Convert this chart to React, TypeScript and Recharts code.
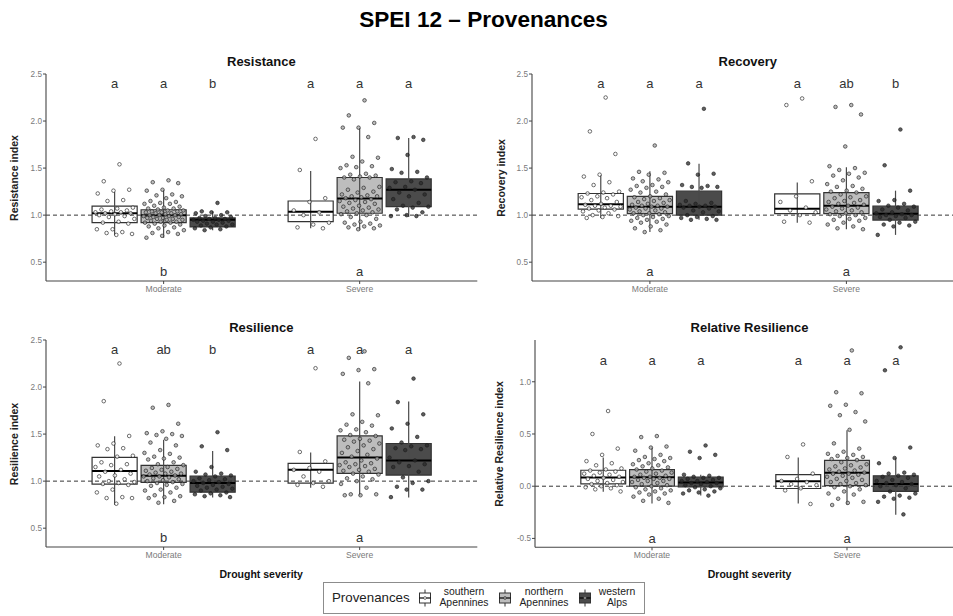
import React from "react";
import { ComposedChart, XAxis, YAxis, ReferenceArea, ReferenceLine, Scatter } from "recharts";

const FONT = "'Liberation Sans', Arial, sans-serif";

const severities = ["Moderate", "Severe"];
const provenances = [["southern", "Apennines"], ["northern", "Apennines"], ["western", "Alps"]];
const boxFill = ["#ffffff", "#bdbdbd", "#4b4b4b"];
const dotFill = ["#ffffff", "#a6a6a6", "#2a2a2a"];

// box stats: [lower whisker, q1, median, q3, upper whisker]
// order: Moderate south/north/west, Severe south/north/west
const resStats = [
  [0.785, 0.92, 1.02, 1.095, 1.245], [0.76, 0.92, 1.0, 1.057, 1.27], [0.84, 0.875, 0.95, 0.97, 1.04],
  [0.86, 0.93, 1.035, 1.15, 1.47], [0.84, 1.02, 1.177, 1.4, 1.925], [0.98, 1.09, 1.27, 1.385, 1.82],
];
const recStats = [
  [0.97, 1.064, 1.117, 1.23, 1.43], [0.82, 1.015, 1.09, 1.2, 1.466], [0.95, 1.0, 1.09, 1.255, 1.545],
  [0.92, 1.015, 1.067, 1.226, 1.346], [0.85, 1.015, 1.1, 1.24, 1.51], [0.79, 0.947, 1.014, 1.095, 1.26],
];
const rslStats = [
  [0.75, 0.968, 1.107, 1.252, 1.476], [0.755, 0.986, 1.057, 1.167, 1.44], [0.826, 0.883, 0.979, 1.053, 1.32],
  [0.93, 0.979, 1.12, 1.188, 1.305], [0.844, 1.082, 1.252, 1.48, 2.06], [0.826, 1.064, 1.22, 1.4, 1.846],
];
const relStats = [
  [-0.054, 0.022, 0.083, 0.153, 0.274], [-0.166, 0.0, 0.086, 0.159, 0.37], [-0.09, -0.006, 0.035, 0.086, 0.11],
  [-0.166, -0.022, 0.048, 0.11, 0.274], [-0.178, 0.006, 0.13, 0.248, 0.535], [-0.274, -0.05, 0.022, 0.1, 0.268],
];

const resModSouth = [1.54, 1.36, 1.27, 1.26, 1.23, 1.16, 1.15, 1.08, 1.07, 1.06, 1.05, 1.04, 1.03, 1.03, 1.02, 1.02, 1.01, 1.0, 0.99, 0.98, 0.96, 0.93, 0.92, 0.91, 0.85, 0.85, 0.82, 0.81, 0.8, 0.79];
const resModNorth = [1.37, 1.35, 1.34, 1.27, 1.26, 1.22, 1.21, 1.2, 1.18, 1.15, 1.14, 1.13, 1.12, 1.12, 1.1, 1.09, 1.08, 1.07, 1.07, 1.06, 1.05, 1.05, 1.04, 1.04, 1.03, 1.03, 1.02, 1.02, 1.01, 1.01, 1.0, 1.0, 1.0, 0.99, 0.99, 0.98, 0.98, 0.97, 0.97, 0.96, 0.96, 0.95, 0.95, 0.94, 0.93, 0.93, 0.92, 0.92, 0.91, 0.9, 0.89, 0.88, 0.87, 0.86, 0.84, 0.82, 0.81, 0.8, 0.78, 0.76];
const resModWest = [1.13, 1.04, 1.03, 1.03, 1.02, 1.0, 0.99, 0.98, 0.97, 0.97, 0.96, 0.96, 0.95, 0.95, 0.94, 0.94, 0.93, 0.93, 0.92, 0.91, 0.9, 0.9, 0.89, 0.88, 0.87, 0.86, 0.85, 0.84];
const resSevSouth = [1.81, 1.48, 1.18, 1.14, 1.05, 1.03, 1.0, 0.92, 0.9, 0.87, 0.86];
const resSevNorth = [2.22, 2.06, 1.98, 1.93, 1.93, 1.83, 1.62, 1.61, 1.57, 1.53, 1.52, 1.51, 1.5, 1.44, 1.43, 1.42, 1.41, 1.4, 1.4, 1.38, 1.3, 1.29, 1.27, 1.25, 1.24, 1.22, 1.21, 1.2, 1.2, 1.19, 1.18, 1.17, 1.16, 1.15, 1.14, 1.13, 1.12, 1.1, 1.09, 1.08, 1.07, 1.06, 1.05, 1.04, 1.03, 1.02, 1.01, 1.0, 0.98, 0.96, 0.93, 0.92, 0.91, 0.9, 0.89, 0.88, 0.87, 0.86, 0.85];
const resSevWest = [1.83, 1.82, 1.8, 1.64, 1.49, 1.46, 1.45, 1.4, 1.36, 1.35, 1.34, 1.3, 1.29, 1.27, 1.24, 1.22, 1.2, 1.17, 1.13, 1.1, 1.09, 1.08, 1.06, 1.03, 1.0, 0.99, 0.99];

const recModSouth = [2.25, 1.89, 1.65, 1.43, 1.41, 1.35, 1.32, 1.25, 1.24, 1.23, 1.22, 1.2, 1.19, 1.18, 1.16, 1.14, 1.12, 1.11, 1.1, 1.1, 1.09, 1.08, 1.07, 1.06, 1.05, 1.04, 1.02, 1.0, 0.99, 0.98, 0.97];
const recModNorth = [1.74, 1.46, 1.45, 1.43, 1.39, 1.38, 1.36, 1.35, 1.32, 1.31, 1.3, 1.29, 1.27, 1.25, 1.24, 1.22, 1.2, 1.19, 1.18, 1.17, 1.16, 1.15, 1.14, 1.13, 1.12, 1.11, 1.1, 1.1, 1.09, 1.09, 1.08, 1.07, 1.07, 1.06, 1.05, 1.04, 1.03, 1.02, 1.02, 1.01, 1.0, 0.99, 0.98, 0.97, 0.96, 0.95, 0.94, 0.93, 0.92, 0.9, 0.88, 0.86, 0.84, 0.82];
const recModWest = [2.13, 1.55, 1.44, 1.43, 1.32, 1.31, 1.3, 1.3, 1.29, 1.15, 1.13, 1.12, 1.11, 1.1, 1.1, 1.09, 1.09, 1.08, 1.07, 1.05, 1.04, 1.03, 1.0, 0.99, 0.98, 0.97, 0.96, 0.95, 0.95];
const recSevSouth = [2.24, 2.17, 1.36, 1.2, 1.14, 1.08, 1.05, 1.03, 1.0, 0.93, 0.92];
const recSevNorth = [2.17, 2.15, 2.07, 1.73, 1.52, 1.5, 1.48, 1.45, 1.44, 1.42, 1.4, 1.37, 1.33, 1.31, 1.3, 1.28, 1.26, 1.25, 1.24, 1.22, 1.2, 1.19, 1.18, 1.16, 1.15, 1.14, 1.13, 1.12, 1.11, 1.1, 1.09, 1.08, 1.07, 1.06, 1.05, 1.04, 1.03, 1.02, 1.01, 1.0, 0.99, 0.97, 0.96, 0.95, 0.94, 0.92, 0.9, 0.88, 0.86, 0.85];
const recSevWest = [1.91, 1.53, 1.26, 1.16, 1.15, 1.12, 1.1, 1.09, 1.08, 1.06, 1.05, 1.03, 1.02, 1.01, 1.0, 1.0, 0.99, 0.98, 0.97, 0.95, 0.93, 0.92, 0.9, 0.89, 0.88, 0.79];

const rslModSouth = [2.25, 1.85, 1.48, 1.4, 1.38, 1.35, 1.34, 1.27, 1.26, 1.2, 1.18, 1.17, 1.15, 1.12, 1.1, 1.08, 1.06, 1.05, 1.02, 1.0, 0.99, 0.98, 0.97, 0.96, 0.91, 0.88, 0.83, 0.82, 0.82, 0.76];
const rslModNorth = [1.81, 1.78, 1.61, 1.53, 1.51, 1.5, 1.49, 1.48, 1.45, 1.41, 1.38, 1.33, 1.3, 1.29, 1.26, 1.25, 1.24, 1.23, 1.2, 1.18, 1.17, 1.15, 1.14, 1.13, 1.12, 1.11, 1.1, 1.09, 1.08, 1.08, 1.07, 1.06, 1.05, 1.05, 1.04, 1.03, 1.02, 1.01, 1.0, 0.99, 0.98, 0.97, 0.96, 0.95, 0.93, 0.91, 0.9, 0.88, 0.85, 0.84, 0.83, 0.82, 0.79, 0.77];
const rslModWest = [1.52, 1.37, 1.33, 1.15, 1.1, 1.08, 1.07, 1.06, 1.05, 1.03, 1.02, 1.01, 1.0, 0.99, 0.98, 0.97, 0.96, 0.95, 0.94, 0.93, 0.92, 0.91, 0.9, 0.88, 0.87, 0.86, 0.85, 0.84, 0.83];
const rslSevSouth = [2.2, 1.31, 1.21, 1.14, 1.12, 1.1, 1.05, 1.0, 0.98, 0.96, 0.94];
const rslSevNorth = [2.38, 2.31, 2.19, 2.18, 2.14, 2.04, 1.71, 1.7, 1.63, 1.6, 1.59, 1.55, 1.54, 1.52, 1.49, 1.48, 1.45, 1.44, 1.43, 1.42, 1.4, 1.38, 1.36, 1.34, 1.32, 1.3, 1.28, 1.26, 1.24, 1.22, 1.2, 1.19, 1.18, 1.17, 1.16, 1.15, 1.13, 1.12, 1.11, 1.1, 1.08, 1.07, 1.05, 1.03, 1.02, 1.0, 0.97, 0.93, 0.86, 0.86, 0.85, 0.85];
const rslSevWest = [2.09, 1.84, 1.71, 1.61, 1.56, 1.47, 1.41, 1.38, 1.37, 1.35, 1.34, 1.33, 1.25, 1.22, 1.2, 1.18, 1.16, 1.15, 1.1, 1.04, 1.0, 0.98, 0.94, 0.91, 0.91, 0.83];

const relModSouth = [0.72, 0.5, 0.36, 0.3, 0.24, 0.22, 0.2, 0.17, 0.16, 0.15, 0.14, 0.13, 0.12, 0.11, 0.1, 0.09, 0.08, 0.07, 0.06, 0.05, 0.04, 0.03, 0.02, 0.01, 0.0, -0.01, -0.02, -0.03, -0.05];
const relModNorth = [0.48, 0.47, 0.38, 0.37, 0.34, 0.3, 0.28, 0.27, 0.26, 0.25, 0.24, 0.22, 0.21, 0.2, 0.19, 0.18, 0.17, 0.16, 0.15, 0.14, 0.13, 0.12, 0.11, 0.1, 0.09, 0.09, 0.08, 0.08, 0.07, 0.07, 0.06, 0.05, 0.05, 0.04, 0.03, 0.02, 0.01, 0.0, -0.01, -0.02, -0.03, -0.04, -0.05, -0.06, -0.07, -0.08, -0.1, -0.12, -0.14, -0.16];
const relModWest = [0.39, 0.33, 0.3, 0.27, 0.11, 0.1, 0.09, 0.08, 0.08, 0.07, 0.06, 0.05, 0.05, 0.04, 0.03, 0.03, 0.02, 0.01, 0.0, -0.01, -0.02, -0.03, -0.04, -0.05, -0.06, -0.07, -0.09];
const relSevSouth = [0.4, 0.28, 0.12, 0.07, 0.05, 0.04, 0.02, 0.01, -0.02, -0.04, -0.17];
const relSevNorth = [1.3, 0.9, 0.89, 0.78, 0.77, 0.71, 0.68, 0.62, 0.54, 0.41, 0.36, 0.33, 0.31, 0.3, 0.29, 0.28, 0.27, 0.26, 0.25, 0.23, 0.21, 0.2, 0.19, 0.18, 0.17, 0.16, 0.15, 0.14, 0.13, 0.12, 0.12, 0.11, 0.1, 0.09, 0.08, 0.07, 0.06, 0.05, 0.04, 0.03, 0.02, 0.01, 0.0, -0.01, -0.03, -0.05, -0.07, -0.08, -0.12, -0.15, -0.16, -0.18];
const relSevWest = [1.33, 1.11, 0.37, 0.27, 0.22, 0.13, 0.12, 0.11, 0.1, 0.09, 0.08, 0.06, 0.05, 0.04, 0.03, 0.02, 0.01, 0.0, -0.02, -0.05, -0.07, -0.09, -0.1, -0.11, -0.12, -0.15, -0.27];

// significance letters
const resTop = ["a", "a", "b", "a", "a", "a"];
const resBottom = ["b", "a"];
const recTop = ["a", "a", "a", "a", "ab", "b"];
const recBottom = ["a", "a"];
const rslTop = ["a", "ab", "b", "a", "a", "a"];
const rslBottom = ["b", "a"];
const relTop = ["a", "a", "a", "a", "a", "a"];
const relBottom = ["a", "a"];

const ratioTicks = [0.5, 1.0, 1.5, 2.0, 2.5];
const relTicks = [-0.5, 0.0, 0.5, 1.0];

const dodge = [-0.25, 0, 0.25];
const halfW = 0.115;
const jitter = (i: number) => ((((i + 1) * 0.6180339887) % 1) - 0.5) * 0.21;

interface PanelProps {
  title: string;
  yLabel: string;
  stats: number[][];
  groups: number[][];
  top: string[];
  bottom: string[];
  domain: [number, number];
  ticks: number[];
  refY: number;
  topY: number;
  bottomY: number;
  x0: number;
  x1: number;
  y0: number;
  y1: number;
  yLabelX: number;
}

function Panel(p: PanelProps) {
  const mL = 10, yW = 36, mT = 10, xH = 20, mB = 2, mR = 2;
  const width = p.x1 - p.x0 + mL + yW + mR;
  const height = p.y1 - p.y0 + mT + xH + mB;
  const tickStyle = { fontSize: 8.2, fill: "#7a7a7a", fontFamily: FONT };

  const pointSeries = [0, 1, 2].map((prov) =>
    [0, 1].flatMap((sev) =>
      p.groups[sev * 3 + prov].map((v, i) => ({ x: sev + 1 + dodge[prov] + jitter(i), y: v }))
    )
  );
  const letters = [
    ...p.top.map((t, g) => ({ x: Math.floor(g / 3) + 1 + dodge[g % 3], y: p.topY, t })),
    ...p.bottom.map((t, s) => ({ x: s + 1, y: p.bottomY, t })),
  ];

  return (
    <>
      <div style={{ position: "absolute", left: p.x0, width: p.x1 - p.x0, top: p.y0 - 20, textAlign: "center", fontSize: 13, fontWeight: 700, color: "#111", lineHeight: "16px" }}>
        {p.title}
      </div>
      <div style={{ position: "absolute", left: p.yLabelX, top: (p.y0 + p.y1) / 2, transform: "translate(-50%, -50%) rotate(-90deg)", whiteSpace: "nowrap", fontSize: 10.5, fontWeight: 700, color: "#222" }}>
        {p.yLabel}
      </div>
      <div style={{ position: "absolute", left: p.x0 - mL - yW, top: p.y0 - mT }}>
        <ComposedChart width={width} height={height} margin={{ top: mT, right: mR, bottom: mB, left: mL }}>
          <XAxis
            type="number"
            dataKey="x"
            domain={[0.4, 2.6]}
            ticks={[1, 2]}
            interval={0}
            allowDataOverflow
            tickFormatter={(v: number) => severities[v - 1]}
            height={xH}
            tick={{ ...tickStyle, fontSize: 8.6 }}
            tickSize={3}
            tickMargin={2}
            axisLine={{ stroke: "#444", strokeWidth: 1.1 }}
            tickLine={{ stroke: "#444" }}
          />
          <YAxis
            type="number"
            dataKey="y"
            domain={p.domain}
            ticks={p.ticks}
            interval={0}
            allowDataOverflow
            tickFormatter={(v: number) => v.toFixed(1)}
            width={yW}
            tick={tickStyle}
            tickSize={3}
            tickMargin={1}
            axisLine={{ stroke: "#444", strokeWidth: 1.1 }}
            tickLine={{ stroke: "#444" }}
          />
          {p.stats.map((s, g) => {
            const cx = Math.floor(g / 3) + 1 + dodge[g % 3];
            return (
              <ReferenceLine key={`wl${g}`} segment={[{ x: cx, y: s[0] }, { x: cx, y: s[4] }]} stroke="#4a4a4a" strokeWidth={1.2} />
            );
          })}
          {p.stats.map((s, g) => {
            const cx = Math.floor(g / 3) + 1 + dodge[g % 3];
            return (
              <ReferenceArea key={`box${g}`} x1={cx - halfW} x2={cx + halfW} y1={s[1]} y2={s[3]} fill={boxFill[g % 3]} fillOpacity={1} stroke="#333" strokeWidth={1.2} />
            );
          })}
          {p.stats.map((s, g) => {
            const cx = Math.floor(g / 3) + 1 + dodge[g % 3];
            return (
              <ReferenceLine key={`med${g}`} segment={[{ x: cx - halfW, y: s[2] }, { x: cx + halfW, y: s[2] }]} stroke="#000" strokeWidth={2} />
            );
          })}
          <ReferenceLine y={p.refY} stroke="#333" strokeWidth={1} strokeDasharray="4 3" />
          {pointSeries.map((data, prov) => (
            <Scatter
              key={`pts${prov}`}
              data={data}
              isAnimationActive={false}
              shape={(sp: any) => (
                <circle cx={sp.cx} cy={sp.cy} r={1.8} fill={dotFill[prov]} fillOpacity={0.75} stroke="#1e1e1e" strokeWidth={0.75} strokeOpacity={0.85} />
              )}
            />
          ))}
          <Scatter
            data={letters}
            isAnimationActive={false}
            shape={(sp: any) => (
              <text x={sp.cx} y={sp.cy} dy="0.35em" textAnchor="middle" fontSize={13} fontFamily={FONT} fill="#333">
                {sp.payload.t}
              </text>
            )}
          />
        </ComposedChart>
      </div>
    </>
  );
}

function LegendKey({ fill }: { fill: string }) {
  return (
    <svg width={14} height={18} style={{ display: "block" }}>
      <line x1={7} x2={7} y1={0.5} y2={17.5} stroke="#333" strokeWidth={1} />
      <rect x={1.5} y={4} width={11} height={10} fill={fill} stroke="#333" strokeWidth={1} />
      <line x1={1.5} x2={12.5} y1={9} y2={9} stroke="#000" strokeWidth={1.2} />
      <circle cx={7} cy={9} r={1.4} fill={fill === "#ffffff" ? "#fff" : "#aaa"} stroke="#222" strokeWidth={0.6} />
    </svg>
  );
}

export default function App() {
  const keyX = [417, 497, 577];
  const textX = [463, 543, 616];
  return (
    <div style={{ position: "fixed", left: 0, top: 0, width: 953, height: 616, overflow: "hidden", background: "#fff", fontFamily: FONT }}>
      <div style={{ position: "absolute", left: 0, width: 967, top: 6, textAlign: "center", fontSize: 22.6, fontWeight: 700, color: "#000", lineHeight: "28px" }}>
        SPEI 12 – Provenances
      </div>

      <Panel title="Resistance" yLabel="Resistance index" stats={resStats}
        groups={[resModSouth, resModNorth, resModWest, resSevSouth, resSevNorth, resSevWest]}
        top={resTop} bottom={resBottom} domain={[0.3, 2.5]} ticks={ratioTicks} refY={1} topY={2.4} bottomY={0.4}
        x0={45.7} x1={477} y0={74} y1={281} yLabelX={14} />
      <Panel title="Recovery" yLabel="Recovery index" stats={recStats}
        groups={[recModSouth, recModNorth, recModWest, recSevSouth, recSevNorth, recSevWest]}
        top={recTop} bottom={recBottom} domain={[0.3, 2.5]} ticks={ratioTicks} refY={1} topY={2.4} bottomY={0.4}
        x0={531.7} x1={964} y0={74} y1={281} yLabelX={500.5} />
      <Panel title="Resilience" yLabel="Resilience index" stats={rslStats}
        groups={[rslModSouth, rslModNorth, rslModWest, rslSevSouth, rslSevNorth, rslSevWest]}
        top={rslTop} bottom={rslBottom} domain={[0.3, 2.5]} ticks={ratioTicks} refY={1} topY={2.4} bottomY={0.4}
        x0={45.7} x1={477} y0={340} y1={547} yLabelX={14} />
      <Panel title="Relative Resilience" yLabel="Relative Resilience index" stats={relStats}
        groups={[relModSouth, relModNorth, relModWest, relSevSouth, relSevNorth, relSevWest]}
        top={relTop} bottom={relBottom} domain={[-0.585, 1.4]} ticks={relTicks} refY={0} topY={1.2} bottomY={-0.5}
        x0={535} x1={964} y0={340} y1={547.3} yLabelX={499} />

      <div style={{ position: "absolute", left: 45.7, width: 431, top: 568, textAlign: "center", fontSize: 10.5, fontWeight: 700, color: "#111" }}>
        Drought severity
      </div>
      <div style={{ position: "absolute", left: 535, width: 429, top: 568, textAlign: "center", fontSize: 10.5, fontWeight: 700, color: "#111" }}>
        Drought severity
      </div>

      <div style={{ position: "absolute", left: 323, top: 582, width: 322, height: 32, border: "1px solid #8c8c8c", boxSizing: "border-box" }}>
        <div style={{ position: "absolute", left: 8, top: 7, fontSize: 13.3, color: "#222" }}>Provenances</div>
        {provenances.map((lab, k) => (
          <React.Fragment key={k}>
            <div style={{ position: "absolute", left: keyX[k] - 323, top: 6 }}>
              <LegendKey fill={boxFill[k]} />
            </div>
            <div style={{ position: "absolute", left: textX[k] - 323 - 40, width: 80, top: 4, textAlign: "center", fontSize: 10.4, lineHeight: "10.5px", color: "#222" }}>
              {lab[0]}
              <br />
              {lab[1]}
            </div>
          </React.Fragment>
        ))}
      </div>
    </div>
  );
}
